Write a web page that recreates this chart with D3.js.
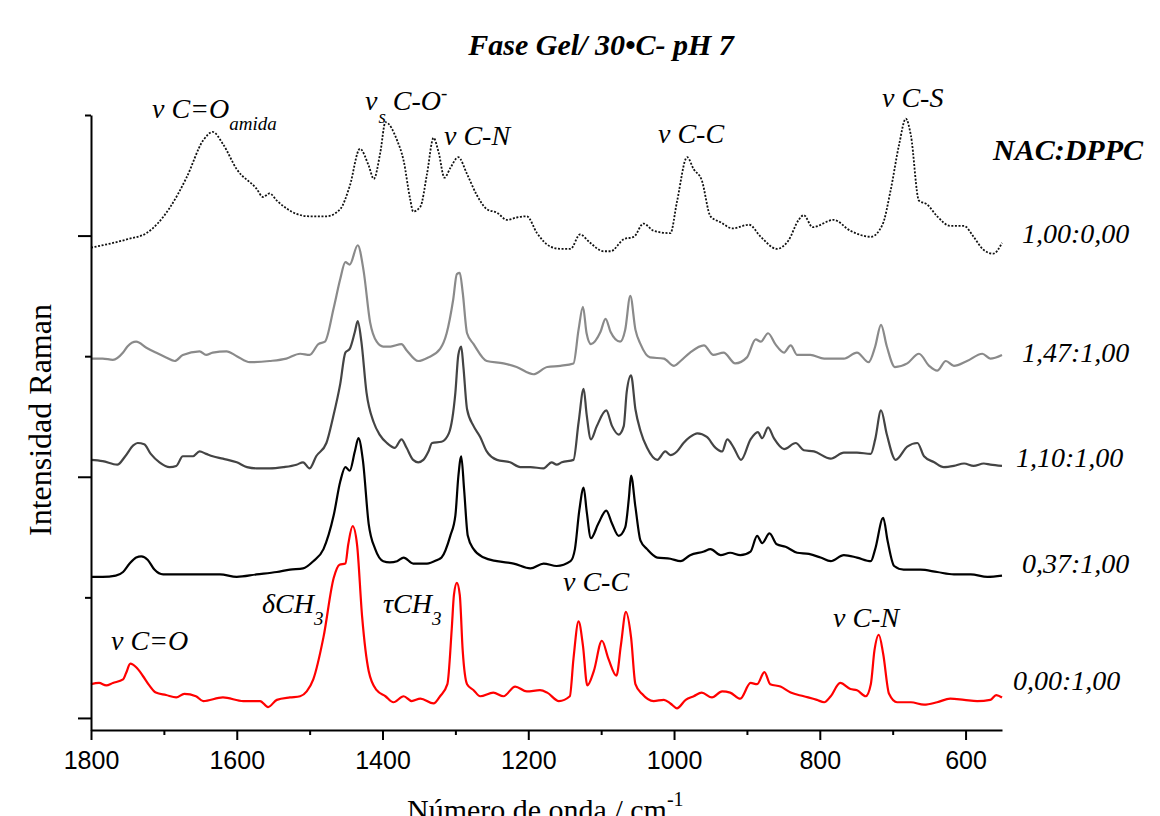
<!DOCTYPE html>
<html>
<head>
<meta charset="utf-8">
<script src="https://cdn.jsdelivr.net/npm/d3@7"></script>
<style>
  body { margin: 0; background: #fff; }
  svg { display: block; }
</style>
</head>
<body>
<div id="chart"></div>
<script>
// spectra: wavenumber (cm-1) and stacked intensity (a.u.)
const nacWn = [1800, 1750, 1724, 1692, 1669, 1646, 1633, 1619, 1600, 1573, 1564, 1555, 1545, 1518, 1500, 1477, 1458, 1445, 1431, 1419, 1412, 1403, 1396, 1380, 1371, 1362, 1358, 1348, 1339, 1330, 1323, 1315, 1307, 1296, 1284, 1271, 1257, 1243, 1229, 1216, 1202, 1188, 1170, 1156, 1142, 1129, 1115, 1097, 1087, 1069, 1055, 1042, 1028, 1005, 996, 982, 973, 962, 950, 936, 920, 897, 881, 859, 843, 829, 822, 810, 781, 758, 730, 714, 703, 691, 682, 675, 664, 653, 639, 621, 602, 589, 575, 562, 550];
const nacI = [3.90, 3.97, 4.02, 4.23, 4.48, 4.79, 4.86, 4.76, 4.55, 4.39, 4.32, 4.35, 4.29, 4.18, 4.16, 4.16, 4.22, 4.41, 4.72, 4.58, 4.47, 4.69, 4.94, 4.79, 4.62, 4.30, 4.20, 4.24, 4.51, 4.81, 4.69, 4.48, 4.56, 4.65, 4.51, 4.34, 4.22, 4.19, 4.13, 4.15, 4.16, 4.02, 3.91, 3.89, 3.89, 4.01, 3.94, 3.87, 3.87, 3.97, 3.99, 4.10, 4.04, 4.02, 4.28, 4.65, 4.55, 4.46, 4.16, 4.11, 4.06, 4.09, 3.99, 3.89, 3.96, 4.13, 4.17, 4.07, 4.13, 4.04, 3.99, 4.09, 4.37, 4.76, 4.97, 4.83, 4.29, 4.26, 4.16, 4.08, 4.08, 3.99, 3.88, 3.85, 3.94];

const r147Wn = [1800, 1784, 1770, 1756, 1750, 1738, 1724, 1711, 1697, 1685, 1674, 1651, 1642, 1633, 1614, 1600, 1582, 1555, 1532, 1513, 1500, 1488, 1479, 1467, 1458, 1451, 1445, 1434, 1426, 1417, 1408, 1399, 1389, 1374, 1367, 1351, 1337, 1321, 1312, 1303, 1298, 1294, 1290, 1284, 1275, 1257, 1234, 1216, 1193, 1174, 1156, 1138, 1131, 1125, 1120, 1114, 1101, 1094, 1087, 1074, 1067, 1060, 1053, 1046, 1033, 1014, 1000, 991, 978, 959, 946, 932, 916, 900, 888, 881, 871, 861, 849, 840, 831, 813, 794, 767, 749, 733, 724, 716, 708, 697, 680, 664, 650, 639, 627, 616, 598, 577, 566, 550];
const r147I = [2.98, 2.98, 2.97, 3.03, 3.08, 3.12, 3.07, 3.03, 2.99, 2.96, 3.01, 3.04, 3.01, 3.03, 3.04, 3.00, 2.95, 2.96, 2.98, 3.02, 3.01, 3.10, 3.12, 3.40, 3.64, 3.78, 3.76, 3.92, 3.71, 3.28, 3.12, 3.08, 3.08, 3.10, 3.05, 2.96, 2.99, 3.06, 3.19, 3.47, 3.68, 3.69, 3.53, 3.19, 3.10, 2.96, 2.94, 2.91, 2.85, 2.91, 2.92, 2.94, 3.22, 3.41, 3.19, 3.10, 3.20, 3.31, 3.20, 3.12, 3.22, 3.50, 3.22, 3.10, 2.99, 2.98, 2.92, 2.96, 3.03, 3.09, 3.01, 3.03, 2.94, 2.99, 3.14, 3.12, 3.19, 3.10, 3.03, 3.09, 3.01, 3.01, 2.98, 2.98, 3.03, 2.95, 3.08, 3.26, 3.08, 2.91, 2.94, 3.02, 2.92, 2.88, 2.96, 2.92, 2.96, 3.02, 2.98, 3.01];

const r110Wn = [1800, 1784, 1764, 1753, 1742, 1736, 1727, 1718, 1706, 1692, 1683, 1674, 1660, 1651, 1642, 1633, 1619, 1600, 1586, 1573, 1555, 1536, 1518, 1509, 1500, 1491, 1477, 1468, 1458, 1451, 1445, 1438, 1434, 1429, 1422, 1412, 1404, 1394, 1383, 1374, 1367, 1358, 1351, 1344, 1337, 1332, 1319, 1309, 1300, 1296, 1292, 1289, 1284, 1275, 1266, 1257, 1243, 1225, 1211, 1197, 1179, 1168, 1161, 1154, 1138, 1131, 1124, 1120, 1114, 1106, 1093, 1085, 1076, 1069, 1065, 1059, 1053, 1046, 1037, 1023, 1012, 1005, 996, 987, 978, 968, 955, 943, 934, 927, 918, 908, 895, 885, 879, 871, 863, 849, 833, 822, 808, 785, 767, 749, 730, 724, 716, 708, 696, 680, 666, 657, 643, 630, 616, 602, 589, 575, 566, 550];
const r110I = [2.14, 2.13, 2.10, 2.17, 2.26, 2.28, 2.27, 2.19, 2.12, 2.08, 2.09, 2.17, 2.17, 2.21, 2.19, 2.17, 2.15, 2.12, 2.08, 2.07, 2.07, 2.08, 2.10, 2.12, 2.07, 2.17, 2.28, 2.49, 2.77, 3.03, 3.06, 3.20, 3.29, 3.12, 2.70, 2.45, 2.35, 2.28, 2.24, 2.31, 2.24, 2.14, 2.12, 2.14, 2.21, 2.28, 2.29, 2.36, 2.70, 3.01, 3.08, 2.91, 2.56, 2.42, 2.33, 2.21, 2.14, 2.12, 2.08, 2.08, 2.07, 2.12, 2.10, 2.12, 2.14, 2.45, 2.73, 2.52, 2.31, 2.42, 2.55, 2.42, 2.35, 2.42, 2.70, 2.84, 2.56, 2.38, 2.24, 2.14, 2.21, 2.18, 2.21, 2.28, 2.33, 2.36, 2.33, 2.24, 2.21, 2.31, 2.24, 2.14, 2.31, 2.37, 2.32, 2.41, 2.32, 2.23, 2.28, 2.22, 2.21, 2.15, 2.20, 2.20, 2.19, 2.31, 2.55, 2.35, 2.14, 2.25, 2.28, 2.17, 2.12, 2.08, 2.09, 2.11, 2.09, 2.11, 2.10, 2.09];

const r037Wn = [1800, 1784, 1766, 1756, 1747, 1738, 1731, 1722, 1713, 1701, 1678, 1646, 1623, 1600, 1573, 1545, 1527, 1509, 1495, 1481, 1467, 1458, 1451, 1445, 1438, 1433, 1427, 1419, 1410, 1399, 1390, 1380, 1371, 1358, 1339, 1325, 1319, 1307, 1300, 1296, 1292, 1288, 1283, 1275, 1261, 1243, 1220, 1197, 1179, 1161, 1142, 1136, 1130, 1124, 1120, 1114, 1104, 1093, 1085, 1076, 1067, 1062, 1059, 1053, 1046, 1037, 1023, 1005, 991, 978, 959, 950, 936, 923, 909, 895, 886, 879, 869, 859, 847, 831, 815, 799, 785, 767, 749, 730, 724, 713, 707, 698, 685, 662, 639, 616, 593, 570, 550];
const r037I = [1.17, 1.17, 1.18, 1.21, 1.28, 1.33, 1.34, 1.31, 1.23, 1.19, 1.19, 1.19, 1.19, 1.17, 1.19, 1.21, 1.23, 1.24, 1.30, 1.40, 1.68, 1.96, 2.08, 2.05, 2.21, 2.32, 2.14, 1.61, 1.40, 1.30, 1.29, 1.30, 1.33, 1.28, 1.28, 1.31, 1.33, 1.51, 1.68, 2.00, 2.17, 1.89, 1.51, 1.40, 1.33, 1.30, 1.28, 1.24, 1.28, 1.26, 1.30, 1.40, 1.72, 1.91, 1.72, 1.49, 1.61, 1.72, 1.61, 1.51, 1.58, 1.82, 2.01, 1.75, 1.47, 1.40, 1.33, 1.32, 1.30, 1.35, 1.38, 1.40, 1.35, 1.37, 1.35, 1.38, 1.51, 1.45, 1.53, 1.44, 1.42, 1.37, 1.36, 1.33, 1.30, 1.35, 1.33, 1.30, 1.40, 1.66, 1.47, 1.26, 1.23, 1.23, 1.21, 1.19, 1.19, 1.17, 1.18];

const dppcWn = [1800, 1789, 1779, 1770, 1756, 1752, 1746, 1738, 1729, 1720, 1711, 1697, 1683, 1672, 1656, 1646, 1619, 1591, 1568, 1557, 1545, 1527, 1513, 1504, 1495, 1481, 1467, 1459, 1451, 1447, 1441, 1435, 1428, 1419, 1408, 1396, 1385, 1371, 1360, 1348, 1330, 1321, 1311, 1305, 1302, 1298, 1294, 1290, 1284, 1275, 1266, 1248, 1234, 1218, 1202, 1184, 1174, 1158, 1143, 1138, 1131, 1125, 1119, 1110, 1099, 1090, 1079, 1073, 1066, 1059, 1053, 1044, 1028, 1014, 1005, 996, 984, 973, 962, 948, 934, 923, 909, 895, 886, 876, 868, 854, 840, 822, 804, 794, 785, 772, 758, 749, 737, 730, 725, 719, 713, 705, 694, 675, 657, 639, 621, 602, 584, 566, 558, 550];
const dppcI = [0.28, 0.29, 0.27, 0.29, 0.32, 0.37, 0.45, 0.42, 0.35, 0.27, 0.21, 0.19, 0.17, 0.20, 0.18, 0.14, 0.17, 0.14, 0.14, 0.09, 0.15, 0.17, 0.18, 0.22, 0.32, 0.67, 1.16, 1.27, 1.28, 1.44, 1.59, 1.44, 0.84, 0.39, 0.23, 0.18, 0.13, 0.18, 0.14, 0.16, 0.12, 0.18, 0.28, 0.74, 1.02, 1.12, 1.02, 0.56, 0.28, 0.23, 0.18, 0.21, 0.18, 0.26, 0.22, 0.23, 0.21, 0.14, 0.18, 0.49, 0.80, 0.60, 0.27, 0.39, 0.64, 0.49, 0.35, 0.60, 0.88, 0.67, 0.28, 0.20, 0.14, 0.15, 0.12, 0.08, 0.15, 0.18, 0.21, 0.17, 0.22, 0.21, 0.16, 0.29, 0.28, 0.38, 0.28, 0.26, 0.21, 0.18, 0.15, 0.13, 0.18, 0.29, 0.24, 0.23, 0.18, 0.28, 0.56, 0.69, 0.53, 0.20, 0.13, 0.13, 0.11, 0.13, 0.16, 0.15, 0.14, 0.15, 0.19, 0.17];

// NAC:DPPC ratios, top to bottom
const ratioLabels = ["1,00:0,00", "1,47:1,00", "1,10:1,00", "0,37:1,00", "0,00:1,00"];

// axis ticks
const xMajorTicks = [1800, 1600, 1400, 1200, 1000, 800, 600];
const xMinorTicks = [1700, 1500, 1300, 1100, 900, 700];
const yMajorTicks = [0, 2, 4];
const yMinorTicks = [1, 3, 5];

function ramanChart() {
    const W = 1160, H = 816;
    const margin = { top: 115, right: 158, bottom: 86, left: 91 };
    const width = W - margin.left - margin.right;
    const height = H - margin.top - margin.bottom;
    const serif = "'Liberation Serif', 'Times New Roman', serif";

    const svg = d3.select("#chart")
        .append("svg")
        .attr("width", W)
        .attr("height", H)
        .attr("viewBox", `0 0 ${W} ${H}`);

    const g = svg.append("g")
        .attr("transform", `translate(${margin.left}, ${margin.top})`);

    // scales
    const x = d3.scaleLinear().domain([1800, 550]).range([0, width]);
    const y = d3.scaleLinear().domain([-0.1, 5]).range([height, 0]);

    // spectra
    const series = [
        { wn: nacWn, val: nacI, color: "#111", width: 1.8, dash: "2,1.6" },
        { wn: r147Wn, val: r147I, color: "#8a8a8a", width: 2.2, dash: null },
        { wn: r110Wn, val: r110I, color: "#444", width: 2.2, dash: null },
        { wn: r037Wn, val: r037I, color: "#000", width: 2.2, dash: null },
        { wn: dppcWn, val: dppcI, color: "#ff0000", width: 2.2, dash: null }
    ];

    const line = d3.line()
        .x(d => x(d[0]))
        .y(d => y(d[1]))
        .curve(d3.curveMonotoneX);

    g.append("g")
        .selectAll("path")
        .data(series)
        .join("path")
        .attr("fill", "none")
        .attr("stroke", d => d.color)
        .attr("stroke-width", d => d.width)
        .attr("stroke-dasharray", d => d.dash)
        .attr("stroke-linejoin", "round")
        .attr("d", d => line(d3.zip(d.wn, d.val)));

    // x axis, major and minor ticks
    const xAxis = g.append("g")
        .attr("transform", `translate(0, ${height})`)
        .call(d3.axisBottom(x).tickValues(xMajorTicks).tickFormat(d3.format("d"))
            .tickSize(10).tickSizeOuter(0).tickPadding(11));
    g.append("g")
        .attr("transform", `translate(0, ${height})`)
        .call(d3.axisBottom(x).tickValues(xMinorTicks).tickSize(5).tickFormat(""))
        .select(".domain").remove();
    xAxis.selectAll("text")
        .style("font-family", "'Liberation Sans', Arial, sans-serif")
        .style("font-size", "25px")
        .attr("fill", "#000");

    // y axis, no labels
    g.append("g")
        .call(d3.axisLeft(y).tickValues(yMajorTicks).tickSize(13).tickSizeOuter(0).tickFormat(""));
    g.append("g")
        .call(d3.axisLeft(y).tickValues(yMinorTicks).tickSize(6).tickFormat(""))
        .select(".domain").remove();

    g.selectAll(".domain, .tick line")
        .attr("stroke", "#000")
        .attr("stroke-width", 2);

    // title
    svg.append("text")
        .attr("x", 601)
        .attr("y", 55)
        .attr("text-anchor", "middle")
        .style("font-family", serif)
        .style("font-weight", "bold")
        .style("font-style", "italic")
        .style("font-size", "30px")
        .text("Fase Gel/ 30\u2022C- pH 7");

    // axis titles
    svg.append("text")
        .attr("transform", "translate(51, 420) rotate(-90)")
        .attr("text-anchor", "middle")
        .style("font-family", serif)
        .style("font-size", "32px")
        .text("Intensidad Raman");

    const xt = svg.append("text")
        .attr("x", 407)
        .attr("y", 820)
        .style("font-family", serif)
        .style("font-size", "30px");
    xt.append("tspan").text("Número de onda / cm");
    xt.append("tspan").attr("dy", -14).style("font-size", "20px").text("-1");

    // ratio labels
    svg.append("text")
        .attr("x", 993)
        .attr("y", 160)
        .style("font-family", serif)
        .style("font-weight", "bold")
        .style("font-style", "italic")
        .style("font-size", "30px")
        .text("NAC:DPPC");

    const labelX = [1022, 1022, 1016, 1022, 1013];
    const labelY = [243, 362, 467, 573, 690];
    svg.append("g")
        .selectAll("text")
        .data(ratioLabels)
        .join("text")
        .attr("x", (d, i) => labelX[i])
        .attr("y", (d, i) => labelY[i])
        .style("font-family", serif)
        .style("font-style", "italic")
        .style("font-size", "28px")
        .text(d => d);

    // band assignments
    const notes = svg.append("g")
        .style("font-family", serif)
        .style("font-style", "italic")
        .style("font-size", "28px");

    function note(px, py, parts) {
        const t = notes.append("text").attr("x", px).attr("y", py);
        parts.forEach(p => {
            const s = t.append("tspan").text(p.t);
            if (p.dy) s.attr("dy", p.dy);
            if (p.dx) s.attr("dx", p.dx);
            if (p.small) s.style("font-size", "19px");
        });
    }

    note(152, 118, [{ t: "\u03bd C=O" }, { t: "amida", dy: 12, small: true }]);
    note(365, 110, [{ t: "\u03bd" }, { t: "s", dx: 1, dy: 13, small: true }, { t: " C-O", dy: -13 }, { t: "-", dy: -11, small: true }]);
    note(444, 145, [{ t: "\u03bd C-N" }]);
    note(658, 143, [{ t: "\u03bd C-C" }]);
    note(882, 107, [{ t: "\u03bd C-S" }]);
    note(111, 650, [{ t: "\u03bd C=O" }]);
    note(262, 613, [{ t: "\u03b4CH" }, { t: "3", dy: 12, small: true }]);
    note(383, 613, [{ t: "\u03c4CH" }, { t: "3", dy: 12, small: true }]);
    note(563, 591, [{ t: "\u03bd C-C" }]);
    note(833, 627, [{ t: "\u03bd C-N" }]);
}

ramanChart();
</script>
</body>
</html>
